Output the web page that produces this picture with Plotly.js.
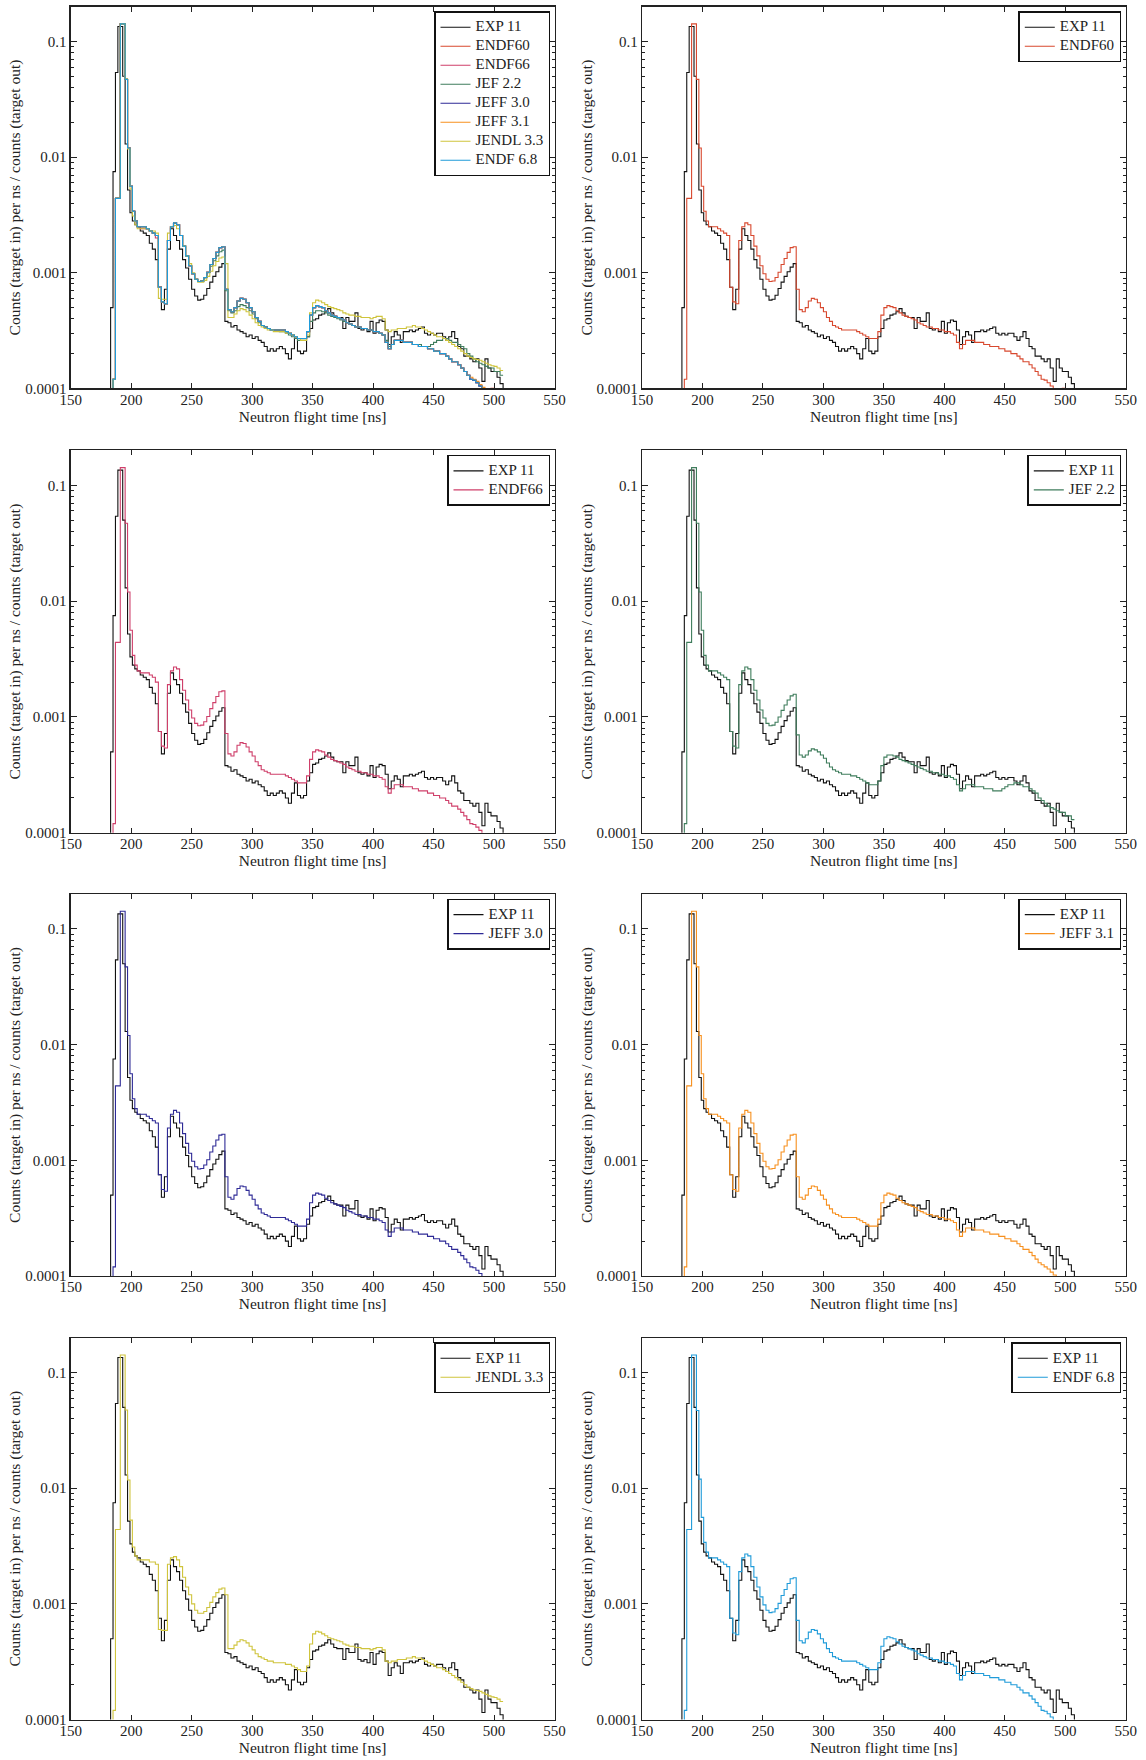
<!DOCTYPE html>
<html><head><meta charset="utf-8">
<script src="https://cdn.plot.ly/plotly-3.0.1.min.js"></script>
<style>body{margin:0;background:#fff}#chart{width:1146px;height:1760px}</style>
</head><body><div id="chart"></div>
<script>
// Neutron flight time bin starts [ns]
const timeNs = [
 180,183,185,187,189,191,193,195,197,199,201,203,205,
 207.5,210,212.5,215,217.5,220,222.5,225,
 227.5,230,232.5,235,237.5,240,242.5,245,247.5,250,
 252.5,255,257.5,260,262.5,265,267.5,270,272.5,275,
 277.5,280,282.5,285,287.5,290,292.5,295,297.5,300,
 302.5,305,307.5,310,312.5,315,317.5,320,322.5,325,
 327.5,330,332.5,335,337.5,340,342.5,345,347.5,350,
 352.5,355,357.5,360,362.5,365,367.5,370,372.5,375,
 377.5,380,382.5,385,387.5,390,392.5,395,397.5,400,
 402.5,405,407.5,410,412.5,415,417.5,420,422.5,425,
 427.5,430,432.5,435,437.5,440,442.5,445,447.5,450,
 452.5,455,457.5,460,462.5,465,467.5,470,472.5,475,
 477.5,480,482.5,485,487.5,490,492.5,495,497.5,500,
 502.5,505,507.5];

const exp11 = [
 1e-6,0.0005,0.0075,0.054,0.135,0.135,0.05,0.013,0.0052,0.0033,0.0028,0.0026,0.0025,
 0.0023,0.0022,0.0021,0.0018,0.0016,0.0013,0.00075,0.00048,
 0.00072,0.0016,0.0024,0.0021,0.0019,0.0016,0.0013,0.0011,0.00088,0.00072,
 0.00063,0.00058,0.00059,0.00064,0.00073,0.00083,0.00093,0.00102,0.00112,0.0012,
 0.00038,0.00037,0.00034,0.00035,0.00032,0.00031,0.0003,0.00028,0.00029,0.00027,
 0.00028,0.00026,0.00025,0.00023,0.00021,0.00022,0.00021,0.00022,0.00023,0.00022,
 0.0002,0.00018,0.00022,0.00027,0.00021,0.0002,0.00021,0.00028,0.00033,0.00039,
 0.0004,0.00043,0.00044,0.00046,0.00049,0.00045,0.00042,0.00041,0.00041,0.00033,
 0.00041,0.00038,0.00038,0.00045,0.00033,0.00032,0.00033,0.00031,0.00038,0.0003,
 0.00037,0.00039,0.00038,0.00032,0.00024,0.00028,0.00031,0.00029,0.00025,0.00031,
 0.00031,0.00032,0.00031,0.00032,0.00033,0.00034,0.0003,0.00029,0.0003,0.00029,
 0.0003,0.0003,0.00028,0.00026,0.00028,0.00031,0.00027,0.00023,0.00022,0.00019,
 0.00019,0.00018,0.00017,0.00018,0.00015,0.000115,0.00018,0.00015,0.00014,0.00014,
 0.000125,0.00011,1e-6];

const endf60 = [
 1e-6,1e-6,0.00012,0.0044,0.0044,0.142,0.142,0.047,0.012,0.0056,0.0034,0.0028,0.0025,
 0.0025,0.0025,0.0024,0.0023,0.0022,0.0021,0.00075,0.00056,
 0.00054,0.0019,0.0025,0.0027,0.0026,0.0021,0.0017,0.0014,0.00115,0.00098,
 0.00088,0.00084,0.00085,0.00091,0.00101,0.00118,0.00133,0.0015,0.00165,0.00168,
 0.00072,0.00048,0.00046,0.0005,0.00057,0.0006,0.00059,0.00055,0.0005,0.00046,
 0.00041,0.00038,0.00035,0.00034,0.00033,0.00032,0.00032,0.00032,0.00032,0.00032,
 0.00031,0.0003,0.00029,0.00028,0.00027,0.00027,0.00027,0.00031,0.00043,0.0005,
 0.00052,0.00051,0.0005,0.00047,0.00045,0.00043,0.00042,0.00041,0.0004,0.00039,
 0.00037,0.00036,0.00035,0.00034,0.00034,0.00033,0.00033,0.00032,0.00032,0.00031,
 0.00031,0.0003,0.00029,0.00025,0.00022,0.00024,0.00026,0.00026,0.00026,0.00025,
 0.00025,0.00025,0.00024,0.00024,0.00023,0.00023,0.00023,0.00022,0.00022,0.00021,
 0.00021,0.0002,0.0002,0.00019,0.00018,0.00017,0.00017,0.00016,0.00015,0.00014,
 0.00013,0.00012,0.000118,0.000112,0.000105,0.00009,0.00009,0.00009,0.0001,0.00009,
 0.00009,0.00008,0.00008];

const endf66 = [
 1e-6,1e-6,0.00012,0.0044,0.0044,0.142,0.142,0.047,0.012,0.0056,0.0034,0.0028,0.0025,
 0.0024,0.0024,0.0024,0.0023,0.0022,0.002,0.00075,0.00056,
 0.00054,0.0019,0.0025,0.0027,0.0026,0.0021,0.0017,0.0014,0.00115,0.00098,
 0.00088,0.00084,0.00085,0.00091,0.00101,0.00118,0.00133,0.0015,0.00165,0.00168,
 0.00072,0.00048,0.00046,0.0005,0.00057,0.0006,0.00059,0.00055,0.0005,0.00046,
 0.00041,0.00038,0.00035,0.00034,0.00033,0.00032,0.00032,0.00032,0.00032,0.00032,
 0.00031,0.0003,0.00029,0.00028,0.00027,0.00027,0.00027,0.00031,0.00043,0.0005,
 0.00052,0.00051,0.0005,0.00047,0.00045,0.00043,0.00042,0.00041,0.0004,0.00039,
 0.00037,0.00036,0.00035,0.00034,0.00034,0.00033,0.00033,0.00032,0.00032,0.00031,
 0.00031,0.0003,0.00029,0.00025,0.00022,0.00024,0.00026,0.00026,0.00026,0.00025,
 0.00025,0.00025,0.00024,0.00024,0.00023,0.00023,0.00023,0.00022,0.00022,0.00021,
 0.00021,0.0002,0.0002,0.00019,0.00018,0.00017,0.00017,0.00016,0.00015,0.00014,
 0.00013,0.00012,0.000118,0.000112,0.000105,0.00009,0.00009,0.00009,0.00009,0.00009,
 0.00009,0.00008,0.00008];

const jef22 = [
 1e-6,1e-6,0.00012,0.0044,0.0044,0.142,0.142,0.047,0.012,0.0056,0.0034,0.0028,0.0025,
 0.0025,0.0025,0.0024,0.0023,0.0022,0.0021,0.00075,0.00056,
 0.00054,0.0019,0.0025,0.0027,0.0026,0.0021,0.0017,0.0014,0.00115,0.00098,
 0.00088,0.00084,0.00085,0.0009,0.001,0.00114,0.00127,0.0014,0.00152,0.00157,
 0.0007,0.00047,0.00045,0.00047,0.00051,0.00053,0.00052,0.0005,0.00047,0.00044,
 0.0004,0.00037,0.00035,0.00034,0.00033,0.00032,0.00032,0.00032,0.00031,0.00031,
 0.0003,0.00029,0.00028,0.00027,0.00026,0.00026,0.00026,0.00028,0.00038,0.00045,
 0.00047,0.00047,0.00046,0.00045,0.00043,0.00042,0.00041,0.0004,0.00039,0.00038,
 0.00037,0.00036,0.00035,0.00034,0.00034,0.00033,0.00033,0.00032,0.00032,0.00031,
 0.00031,0.0003,0.00029,0.00026,0.00023,0.00024,0.00026,0.00026,0.00026,0.00025,
 0.00025,0.00025,0.00024,0.00024,0.00024,0.00023,0.00023,0.00023,0.00024,0.00025,
 0.00026,0.00026,0.00027,0.00027,0.00026,0.00025,0.00025,0.00024,0.00023,0.00022,
 0.0002,0.00019,0.00018,0.00017,0.000165,0.00016,0.000155,0.00015,0.00015,0.00014,
 0.00014,0.00013,0.00013];

const jeff30 = [
 1e-6,1e-6,0.00012,0.0044,0.0044,0.142,0.142,0.047,0.012,0.0056,0.0034,0.0028,0.0025,
 0.0025,0.0025,0.0024,0.0023,0.0022,0.0021,0.00075,0.00056,
 0.00054,0.0019,0.0025,0.0027,0.0026,0.0021,0.0017,0.0014,0.00115,0.00098,
 0.00088,0.00084,0.00085,0.00091,0.00101,0.00118,0.00133,0.0015,0.00165,0.00168,
 0.00072,0.00048,0.00046,0.0005,0.00057,0.0006,0.00059,0.00055,0.0005,0.00046,
 0.00041,0.00038,0.00035,0.00034,0.00033,0.00032,0.00032,0.00032,0.00032,0.00032,
 0.00031,0.0003,0.00029,0.00028,0.00027,0.00027,0.00027,0.00031,0.00043,0.0005,
 0.00052,0.00051,0.0005,0.00047,0.00045,0.00043,0.00042,0.00041,0.0004,0.00039,
 0.00037,0.00036,0.00035,0.00034,0.00034,0.00033,0.00033,0.00032,0.00032,0.00031,
 0.00031,0.0003,0.00029,0.00025,0.00022,0.00024,0.00026,0.00026,0.00026,0.00025,
 0.00025,0.00025,0.00024,0.00024,0.00023,0.00023,0.00023,0.00022,0.00022,0.00021,
 0.00021,0.0002,0.0002,0.00019,0.00018,0.00017,0.00017,0.00016,0.00015,0.00014,
 0.00013,0.00012,0.000118,0.000112,0.000105,0.00009,0.00009,0.00009,0.00009,0.00009,
 0.00009,0.00008,0.00008];

const jeff31 = [
 1e-6,1e-6,0.00012,0.0044,0.0044,0.142,0.142,0.047,0.012,0.0056,0.0034,0.0028,0.0025,
 0.0025,0.0025,0.0024,0.0023,0.0022,0.0021,0.00075,0.00056,
 0.00054,0.0019,0.0025,0.0027,0.0026,0.0021,0.0017,0.0014,0.00115,0.00098,
 0.00088,0.00084,0.00085,0.00091,0.00101,0.00118,0.00133,0.0015,0.00165,0.00168,
 0.00072,0.00048,0.00046,0.0005,0.00057,0.0006,0.00059,0.00055,0.0005,0.00046,
 0.00041,0.00038,0.00035,0.00034,0.00033,0.00032,0.00032,0.00032,0.00032,0.00032,
 0.00031,0.0003,0.00029,0.00028,0.00027,0.00027,0.00027,0.00031,0.00043,0.0005,
 0.00052,0.00051,0.0005,0.00047,0.00045,0.00043,0.00042,0.00041,0.0004,0.00039,
 0.00037,0.00036,0.00035,0.00034,0.00034,0.00033,0.00033,0.00032,0.00032,0.00031,
 0.00031,0.0003,0.00029,0.00025,0.00022,0.00024,0.00026,0.00026,0.00026,0.00025,
 0.00025,0.00025,0.00024,0.00024,0.00023,0.00023,0.00023,0.00022,0.00022,0.00021,
 0.00021,0.0002,0.0002,0.00019,0.00018,0.00017,0.00017,0.00016,0.00015,0.00014,
 0.00013,0.000125,0.00012,0.000115,0.000108,0.000102,0.00009,0.00009,0.00009,0.00009,
 0.00009,0.00008,0.00008];

const jendl33 = [
 1e-6,1e-6,0.00012,0.0044,0.0044,0.142,0.142,0.0475,0.0118,0.0053,0.0031,0.0026,0.0024,
 0.0024,0.0024,0.0024,0.0023,0.0023,0.0022,0.0006,0.00059,
 0.00059,0.0022,0.0025,0.00256,0.0024,0.0021,0.0017,0.0014,0.0012,0.001,
 0.00088,0.00083,0.00083,0.00086,0.00093,0.00103,0.00115,0.00125,0.00134,0.00137,
 0.0012,0.00041,0.00041,0.00044,0.00047,0.00049,0.00048,0.00046,0.00043,0.0004,
 0.00037,0.00035,0.00034,0.00033,0.00032,0.00032,0.00031,0.00031,0.00031,0.00031,
 0.0003,0.0003,0.00029,0.00028,0.00027,0.00026,0.00026,0.00029,0.00045,0.00055,
 0.00058,0.00057,0.00055,0.00053,0.00051,0.0005,0.00049,0.00048,0.00047,0.00045,
 0.00044,0.00043,0.00043,0.00042,0.00042,0.00041,0.00041,0.00041,0.0004,0.00041,
 0.00042,0.00042,0.0004,0.00032,0.00031,0.00032,0.00032,0.00033,0.00033,0.00033,
 0.00034,0.00034,0.00035,0.00034,0.00034,0.00033,0.00032,0.00031,0.0003,0.00029,
 0.00028,0.00028,0.00027,0.00026,0.00025,0.00024,0.00023,0.00022,0.00021,0.0002,
 0.00019,0.000185,0.00018,0.000178,0.000175,0.00017,0.000165,0.00016,0.000157,0.000155,
 0.00015,0.000143,0.000143];

const endf68 = [
 1e-6,1e-6,0.00012,0.0044,0.0044,0.142,0.142,0.047,0.012,0.0056,0.0034,0.0028,0.0025,
 0.0025,0.0025,0.0024,0.0023,0.0022,0.0021,0.00075,0.00056,
 0.00054,0.0019,0.0025,0.0027,0.0026,0.0021,0.0017,0.0014,0.00115,0.00098,
 0.00088,0.00084,0.00085,0.00091,0.00101,0.00118,0.00133,0.0015,0.00165,0.00168,
 0.00072,0.00048,0.00046,0.0005,0.00057,0.0006,0.00059,0.00055,0.0005,0.00046,
 0.00041,0.00038,0.00035,0.00034,0.00033,0.00032,0.00032,0.00032,0.00032,0.00032,
 0.00031,0.0003,0.00029,0.00028,0.00027,0.00027,0.00027,0.00031,0.00043,0.0005,
 0.00052,0.00051,0.0005,0.00047,0.00045,0.00043,0.00042,0.00041,0.0004,0.00039,
 0.00037,0.00036,0.00035,0.00034,0.00034,0.00033,0.00033,0.00032,0.00032,0.00031,
 0.00031,0.0003,0.00029,0.00025,0.00022,0.00024,0.00026,0.00026,0.00026,0.00025,
 0.00025,0.00025,0.00024,0.00024,0.00023,0.00023,0.00023,0.00022,0.00022,0.00021,
 0.00021,0.0002,0.0002,0.00019,0.00018,0.00017,0.00017,0.00016,0.00015,0.00014,
 0.00013,0.00012,0.000118,0.000112,0.000105,0.00009,0.00009,0.00009,0.00009,0.00009,
 0.00009,0.00008,0.00008];

const expName = 'EXP 11';
const modelNames = ['ENDF60','ENDF66','JEF 2.2','JEFF 3.0','JEFF 3.1','JENDL 3.3','ENDF 6.8'];
const modelValues = [endf60, endf66, jef22, jeff30, jeff31, jendl33, endf68];
const modelColors = ['#d8482e','#cf3f6a','#3f7d5c','#2e2a96','#f7901e','#cfc43c','#1f9bd9'];
const yTickVals = [0.0001, 0.001, 0.01, 0.1];
const yTickText = ['0.0001', '0.001', '0.01', '0.1'];
const xTitle = 'Neutron flight time [ns]';
const yTitle = 'Counts (target in) per ns / counts (target out)';

const FONT = 'Liberation Serif, Times New Roman, serif';
const W = 1146, H = 1760;
// panel boxes in pixels
const colPx = [[70.7, 554.5], [642, 1125.8]];
const rowPx = [[6.7, 388.4], [450.4, 832.8], [894.1, 1276], [1337.8, 1719.5]];

const minorVals = [];
[0.0001, 0.001, 0.01, 0.1].forEach(d => { for (let k = 2; k <= 9; k++) { const v = d * k; if (v < 0.2) minorVals.push(v); } });

// legend entry label: text drawn at 15px while the row spacing follows the smaller legend font
const legendLabel = s => '<span style="font-size:15px">' + s + '</span>';

const traces = [];
const layout = {
  width: W, height: H, margin: {l: 0, r: 0, t: 0, b: 0},
  paper_bgcolor: '#fff', plot_bgcolor: '#fff', showlegend: true,
  font: {family: FONT, size: 15, color: '#222'}
};

for (let p = 0; p < 8; p++) {
  const r = Math.floor(p / 2), c = p % 2;
  const sfx = p === 0 ? '' : String(p + 1);
  const xa = 'x' + sfx, ya = 'y' + sfx, lg = 'legend' + sfx;
  const [x0, x1] = colPx[c], [y0, y1] = rowPx[r];
  layout['xaxis' + sfx] = {
    domain: [x0 / W, x1 / W], anchor: ya, range: [150, 550], dtick: 50, tick0: 150,
    showline: true, linecolor: '#222', linewidth: 1.3, mirror: 'allticks',
    ticks: 'inside', ticklen: 5, tickcolor: '#222', showgrid: false, zeroline: false,
    ticklabelstandoff: -3,
    tickfont: {family: FONT, size: 15, color: '#222'},
    title: {text: xTitle, font: {family: FONT, size: 15.5, color: '#222'}, standoff: 0}
  };
  layout['yaxis' + sfx] = {
    domain: [1 - y1 / H, 1 - y0 / H], anchor: xa, type: 'log', range: [-4, Math.log10(0.2)],
    tickmode: 'array', tickvals: yTickVals, ticktext: yTickText,
    showline: true, linecolor: '#222', linewidth: 1.3, mirror: 'allticks',
    ticks: 'inside', ticklen: 6, tickcolor: '#222', showgrid: false, zeroline: false,
    minor: {tickmode: 'array', tickvals: minorVals, ticks: 'inside', ticklen: 3, tickcolor: '#222', showgrid: false},
    tickfont: {family: FONT, size: 15, color: '#222'},
    title: {text: yTitle, font: {family: FONT, size: 15.5, color: '#222'}, standoff: 0}
  };
  layout[lg] = {
    x: (x1 - 4.5) / W, y: 1 - (y0 + 4.5) / H, xanchor: 'right', yanchor: 'top',
    bgcolor: '#fff', bordercolor: '#111', borderwidth: 1.5,
    font: {family: FONT, size: 11, color: '#222'}, itemwidth: 30, tracegroupgap: 0, traceorder: 'normal'
  };
  traces.push({x: timeNs, y: exp11, type: 'scatter', mode: 'lines', line: {shape: 'hv', color: '#111', width: 1.1},
    name: legendLabel(expName), xaxis: xa, yaxis: ya, legend: lg});
  const idx = p === 0 ? [0,1,2,3,4,5,6] : [p - 1];
  idx.forEach(m => traces.push({x: timeNs, y: modelValues[m], type: 'scatter', mode: 'lines',
    line: {shape: 'hv', color: modelColors[m], width: 1.1}, name: legendLabel(modelNames[m]), xaxis: xa, yaxis: ya, legend: lg}));
}

Plotly.newPlot('chart', traces, layout, {staticPlot: true, displayModeBar: false});
</script></body></html>
